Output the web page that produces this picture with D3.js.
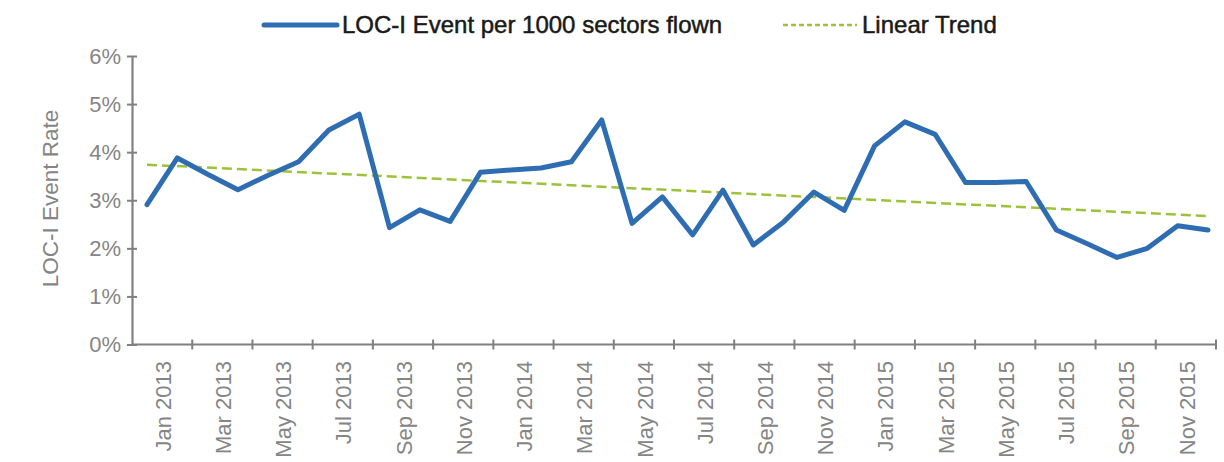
<!DOCTYPE html>
<html><head><meta charset="utf-8">
<script src="https://cdn.jsdelivr.net/npm/d3@7"></script>
<style>html,body{margin:0;padding:0;background:#fff;} svg{display:block;font-family:"Liberation Sans",Arial,Helvetica,sans-serif;}</style>
</head><body><svg id="c" width="1224" height="462"></svg>
<script>
const months = ["Jan 2013","Feb 2013","Mar 2013","Apr 2013","May 2013","Jun 2013","Jul 2013","Aug 2013","Sep 2013","Oct 2013","Nov 2013","Dec 2013",
  "Jan 2014","Feb 2014","Mar 2014","Apr 2014","May 2014","Jun 2014","Jul 2014","Aug 2014","Sep 2014","Oct 2014","Nov 2014","Dec 2014",
  "Jan 2015","Feb 2015","Mar 2015","Apr 2015","May 2015","Jun 2015","Jul 2015","Aug 2015","Sep 2015","Oct 2015","Nov 2015","Dec 2015"];
const locRate = [2.91,3.88,3.54,3.22,3.52,3.80,4.46,4.79,2.43,2.80,2.56,3.58,
  3.63,3.67,3.80,4.67,2.52,3.07,2.28,3.21,2.07,2.55,3.17,2.79,
  4.13,4.63,4.37,3.37,3.37,3.39,2.38,2.10,1.81,2.00,2.47,2.38];
const trendEnds = [3.74, 2.67];
const yTicks = [0,1,2,3,4,5,6];
const tickLabels = ["Jan 2013","Mar 2013","May 2013","Jul 2013","Sep 2013","Nov 2013",
  "Jan 2014","Mar 2014","May 2014","Jul 2014","Sep 2014","Nov 2014",
  "Jan 2015","Mar 2015","May 2015","Jul 2015","Sep 2015","Nov 2015"];
const seriesNames = ["LOC-I Event per 1000 sectors flown","Linear Trend"];
const yTitle = "LOC-I Event Rate";

const svg = d3.select("#c");
const blue = "#2f6db3", green = "#9dc23a", gray = "#808080", txtGray = "#858585";

const xBand = d3.scaleBand().domain(months).range([132,1216]).padding(0);
const xLine = d3.scalePoint().domain(months).range([147,1208]);
const y = d3.scaleLinear().domain([0,6]).range([344.5,56]);

// Y axis
const gy = svg.append("g").attr("transform","translate(132,0)")
  .call(d3.axisLeft(y).tickValues(yTicks).tickFormat(d=>d+"%").tickSize(5).tickSizeOuter(0).tickPadding(6));
gy.select(".domain").attr("stroke",gray).attr("stroke-width",2.2);
gy.selectAll(".tick line").attr("x1",5).attr("x2",-5).attr("stroke",gray).attr("stroke-width",2);
gy.selectAll(".tick text").attr("font-size",22).attr("fill",txtGray).attr("font-family","Liberation Sans, Arial, sans-serif");

// X axis
const gx = svg.append("g");
gx.append("line").attr("x1",132).attr("x2",1216).attr("y1",y(0)).attr("y2",y(0)).attr("stroke",gray).attr("stroke-width",2.2);
const boundaries = months.map((m,i)=>i).filter(i=>i%2===1).map(i=>xBand(months[i])+xBand.bandwidth());
gx.selectAll("line.tk").data(boundaries).join("line").attr("class","tk")
  .attr("x1",d=>d).attr("x2",d=>d).attr("y1",y(0)-5).attr("y2",y(0)+5).attr("stroke",gray).attr("stroke-width",2);
gx.selectAll("text").data(tickLabels).join("text")
  .attr("transform",d=>`translate(${xBand(d)+xBand.bandwidth()+1},361) rotate(-90)`)
  .attr("text-anchor","end").attr("dy","0.35em")
  .attr("font-size",22).attr("fill",txtGray).text(d=>d);

// Y title
svg.append("text").attr("transform","translate(50,198.5) rotate(-90)")
  .attr("text-anchor","middle").attr("dy","0.35em").attr("font-size",22.5).attr("fill",txtGray).text(yTitle);

// Trend line
const trendData = [[months[0],trendEnds[0]],[months[months.length-1],trendEnds[1]]];
svg.append("path").datum(trendData)
  .attr("d",d3.line().x(d=>xLine(d[0])).y(d=>y(d[1])))
  .attr("fill","none").attr("stroke",green).attr("stroke-width",2.5).attr("stroke-dasharray","10,5");

// Series line
svg.append("path").datum(locRate)
  .attr("d",d3.line().x((d,i)=>xLine(months[i])).y(d=>y(d)))
  .attr("fill","none").attr("stroke",blue).attr("stroke-width",5)
  .attr("stroke-linejoin","round").attr("stroke-linecap","round");

// Legend
const lg = svg.append("g");
lg.append("line").attr("x1",264).attr("x2",337).attr("y1",25).attr("y2",25).attr("stroke",blue).attr("stroke-width",5).attr("stroke-linecap","round");
lg.append("text").attr("x",342).attr("y",33).attr("font-size",24).attr("fill","#1a1a1a").attr("stroke","#1a1a1a").attr("stroke-width",0.5).text(seriesNames[0]);
lg.append("line").attr("x1",783).attr("x2",857).attr("y1",25).attr("y2",25).attr("stroke",green).attr("stroke-width",2.5).attr("stroke-dasharray","5,3");
lg.append("text").attr("x",862).attr("y",33).attr("font-size",24).attr("fill","#1a1a1a").attr("stroke","#1a1a1a").attr("stroke-width",0.5).text(seriesNames[1]);
</script></body></html>
